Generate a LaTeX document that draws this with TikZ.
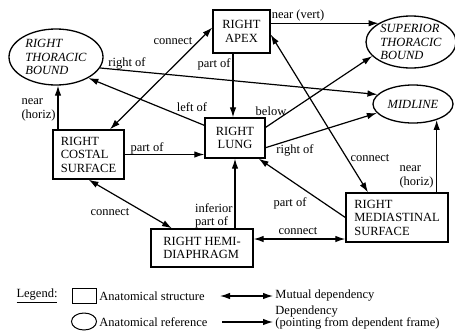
\documentclass[tikz,border=0pt]{standalone}
\usepackage{fontspec}
\setmainfont{Liberation Serif}
\usepackage{tikz}
\usetikzlibrary{arrows.meta,shapes.geometric}
\tikzset{every picture/.style={line width=.9pt}}

\begin{document}
\begin{tikzpicture}[x=1pt,y=-1pt,>={Latex[length=10pt,width=6.5pt]},
  every node/.style={font=\fontsize{12.5}{13.5}\selectfont},
  organ/.style={draw=black,line width=1.3pt,rectangle,inner sep=0pt,align=left},
  landmark/.style={draw=black,line width=1.3pt,ellipse,inner xsep=0pt,inner ysep=-4pt,
                   align=left,font=\fontsize{12.5}{13.5}\selectfont\itshape},
  dep/.style={->,line width=1.2pt},
  mutual/.style={<->,line width=1.2pt},
  lbl/.style={inner sep=0pt,align=left}]
  \useasboundingbox (0,0) rectangle (455,333);

  % Anatomical structures.
  \node[organ,minimum width=57pt,minimum height=43pt,align=center] (apex) at (241.5,31.5)
    {RIGHT\\APEX};
  \node[organ,minimum width=60pt,minimum height=40pt,align=center] (lung) at (235,138)
    {RIGHT\\LUNG};
  \node[organ,minimum width=71pt,minimum height=49pt] (costal) at (88.5,154.5)
    {RIGHT\\COSTAL\\SURFACE};
  \node[organ,minimum width=102pt,minimum height=38pt] (hemi) at (202,248)
    {RIGHT HEMI-\\DIAPHRAGM};
  \node[organ,minimum width=102pt,minimum height=49pt] (medi) at (397,217.5)
    {RIGHT\\MEDIASTINAL\\SURFACE};

  % Anatomical references.
  \node[landmark,minimum width=94pt,minimum height=56pt] (rtb) at (56,57)
    {RIGHT\\THORACIC\\BOUND};
  \node[landmark,minimum width=90pt,minimum height=52pt] (sup) at (411,42)
    {SUPERIOR\\THORACIC\\BOUND};
  \node[landmark,minimum width=80pt,minimum height=38pt] (mid) at (413,104)
    {MIDLINE};

  % Dependencies between frames.
  \draw[dep] (apex.east |- sup.150) -- (sup.150);
  \node[lbl] (nearvert) at (298,15) {near (vert)};
  \draw[dep] ([xshift=-8.5pt]apex.south) -- ([xshift=-8.5pt]apex.south |- lung.north);
  \node[lbl,anchor=east] (apexpart) at (231,64) {part of};
  \draw[dep] (rtb.-14) -- (mid.165);
  \node[lbl] (rtbright) at (127,63) {right of};
  \draw[dep] ([yshift=-8pt]lung.north west) -- (rtb.-33);
  \node[lbl] (lungleft) at (192,107) {left of};
  \draw[mutual] ([xshift=21.5pt]costal.north) -- ([yshift=4pt]apex.west);
  \node[lbl] (conapex) at (173,41) {connect};
  \draw[dep] ([xshift=-30.5pt]costal.north) -- ([xshift=-30.5pt]costal.north |- rtb.south);
  \node[lbl,anchor=east] (costalnear) at (56,110) {near\\(horiz)};
  \draw[dep] (costal.east) -- (lung.west |- costal.east);
  \node[lbl] (costalpart) at (147,148) {part of};
  \draw[dep] ([yshift=-10pt]lung.north east) -- (sup.200);
  \node[lbl] (lungbelow) at (271,111) {below};
  \draw[dep] ([yshift=11pt]lung.south east) -- (mid.194);
  \node[lbl] (lungright) at (295,150) {right of};
  \draw[mutual] ([xshift=-29pt]medi.north) -- ([yshift=-3pt]apex.east);
  \node[lbl] (conmedi) at (370,158) {connect};
  \draw[dep] (mid.-34 |- medi.north) -- (mid.-34);
  \node[lbl,anchor=east] (medinear) at (434,177) {near\\(horiz)};
  \draw[dep] (medi.west) -- ([xshift=-7pt]lung.south east);
  \node[lbl] (medipart) at (290,203) {part of};
  \draw[dep] (hemi.north -| lung.south) -- (lung.south);
  \node[lbl,anchor=east] (hemipart) at (233,216) {inferior\\part of};
  \draw[mutual] (hemi.east |- 0,239) -- (medi.west |- 0,239);
  \node[lbl] (conhemi) at (298,231) {connect};
  \draw[mutual] (costal.south) -- ([xshift=-30pt]hemi.north);
  \node[lbl] (concostal) at (110,212) {connect};

  % Legend.
  \node[lbl] (legend) at (37,296) {\underline{Legend:}};
  \node[organ,line width=1pt,minimum width=24pt,minimum height=15pt] (keybox) at (84,295.5) {};
  \node[lbl,anchor=west] (keyboxtxt) at (99,296) {Anatomical structure};
  \coordinate (mutA) at (220,296);
  \coordinate (mutB) at (273,296);
  \draw[mutual] (mutA) -- (mutB);
  \node[lbl,anchor=west] (muttxt) at (275,296) {Mutual dependency};
  \node[landmark,line width=1pt,minimum width=25pt,minimum height=17pt] (keyell) at (84,321.5) {};
  \node[lbl,anchor=west] (keyelltxt) at (99,322) {Anatomical reference};
  \coordinate (depA) at (222,322);
  \coordinate (depB) at (273,322);
  \draw[dep] (depA) -- (depB);
  \node[lbl,anchor=west,font=\fontsize{12.5}{11.5}\selectfont] (deptxt) at (275,317.5)
    {Dependency\\(pointing from dependent frame)};
\end{tikzpicture}
\end{document}
